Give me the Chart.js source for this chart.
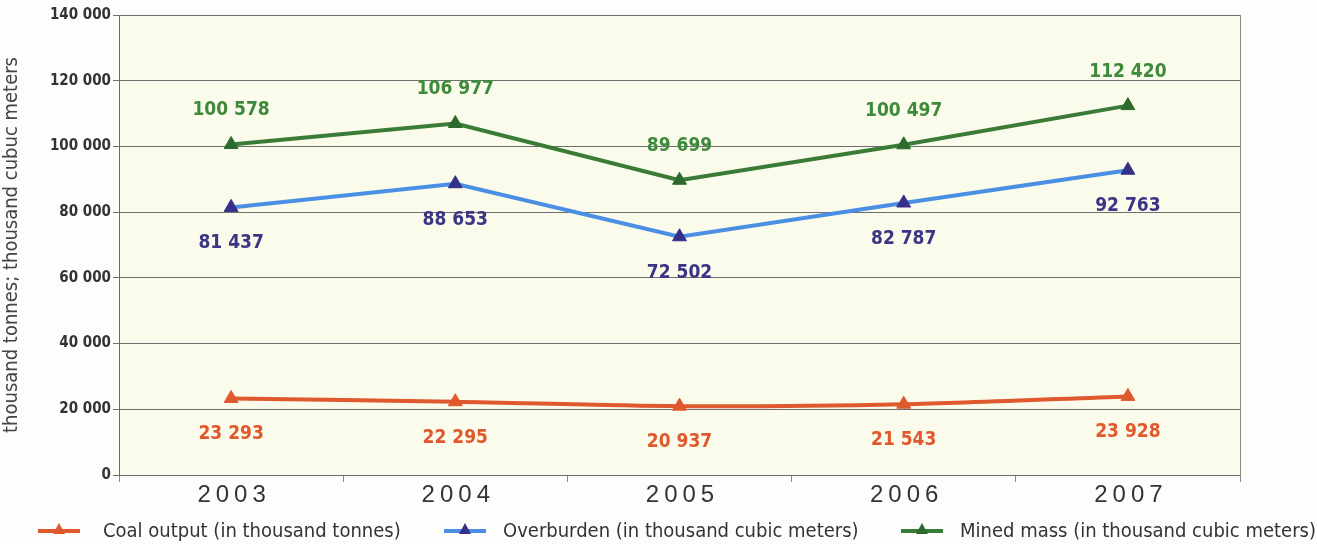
<!DOCTYPE html>
<html>
<head>
<meta charset="utf-8">
<script src="https://cdn.jsdelivr.net/npm/chart.js@4/dist/chart.umd.min.js"></script>
<style>
  html, body { margin: 0; padding: 0; background: #fdfdfb; }
  #wrap { position: relative; width: 1317px; height: 544px; }
  #legend { position: absolute; left: 0; top: 516px; width: 1317px; height: 28px;
    font-family: 'Liberation Sans Narrow', 'DejaVu Sans Condensed', sans-serif; font-size: 20px; color: #333; }
  .item { position: absolute; top: 0; height: 28px; line-height: 28px; white-space: nowrap; }
  .sw { position: absolute; top: 13px; width: 42px; height: 4px; }
  .tri { position: absolute; top: -6px; left: 15px; width: 0; height: 0;
    border-left: 6px solid transparent; border-right: 6px solid transparent; border-bottom: 11px solid; }
  .txt { position: absolute; top: 0; }
</style>
</head>
<body>
<div id="wrap">
  <canvas id="myChart" width="1317" height="544"></canvas>
  <div id="legend"></div>
</div>
<script>
  var years = ["2003", "2004", "2005", "2006", "2007"];
  var coalOutput = [23293, 22295, 20937, 21543, 23928];
  var overburden = [81437, 88653, 72502, 82787, 92763];
  var minedMass = [100578, 106977, 89699, 100497, 112420];
  var yTicks = [0, 20000, 40000, 60000, 80000, 100000, 120000, 140000];
  var seriesNames = ["Coal output (in thousand tonnes)", "Overburden (in thousand cubic meters)", "Mined mass (in thousand cubic meters)"];

  var narrow = "'Liberation Sans Narrow', 'DejaVu Sans Condensed', sans-serif";

  var fmt = function(v) {
    return String(v).replace(/\B(?=(\d{3})+(?!\d))/g, ' ');
  };

  // colours / label offsets per series
  var looks = [
    { line: '#e0582d', mark: '#e0582d', text: '#e0582d', dy: 36, tension: 0.3 },
    { line: '#4a8fe4', mark: '#35308a', text: '#3a3585', dy: 36, tension: 0 },
    { line: '#3b7b38', mark: '#2d6a2e', text: '#3e8a3c', dy: -34, tension: 0 }
  ];

  var bgPlugin = {
    id: 'bg',
    beforeDraw: function(chart) {
      var a = chart.chartArea, c = chart.ctx;
      c.save();
      c.fillStyle = '#fafbea';
      c.fillRect(a.left, a.top, a.right - a.left, a.bottom - a.top);
      c.restore();
    },
    afterDraw: function(chart) {
      var a = chart.chartArea, c = chart.ctx;
      c.save();
      c.strokeStyle = '#8a8a8a';
      c.lineWidth = 1;
      c.beginPath();
      c.moveTo(a.right + 0.5, a.top);
      c.lineTo(a.right + 0.5, a.bottom + 6);
      c.stroke();
      // year labels with wide spacing
      var xs = chart.scales.x;
      c.fillStyle = '#333';
      c.font = '24px "Liberation Sans", Arial, sans-serif';
      c.letterSpacing = '5px';
      c.textAlign = 'center';
      c.textBaseline = 'middle';
      for (var i = 0; i < years.length; i++) {
        c.fillText(years[i], xs.getPixelForValue(i) + 3, 495);
      }
      c.restore();
    }
  };

  var labelPlugin = {
    id: 'vals',
    afterDatasetsDraw: function(chart) {
      var c = chart.ctx;
      c.save();
      c.font = 'bold 19px ' + narrow;
      c.textAlign = 'center';
      c.textBaseline = 'middle';
      chart.data.datasets.forEach(function(ds, k) {
        var meta = chart.getDatasetMeta(k);
        c.fillStyle = looks[k].text;
        meta.data.forEach(function(pt, i) {
          c.fillText(fmt(ds.data[i]), pt.x, pt.y + looks[k].dy);
        });
      });
      c.restore();
    }
  };

  var allSeries = [coalOutput, overburden, minedMass];
  var datasets = [];
  for (var k = 0; k < allSeries.length; k++) {
    datasets.push({
      label: seriesNames[k],
      data: allSeries[k],
      borderColor: looks[k].line,
      borderWidth: 4,
      tension: looks[k].tension,
      pointStyle: 'triangle',
      pointRadius: 8,
      pointBackgroundColor: looks[k].mark,
      pointBorderColor: looks[k].mark,
      pointBorderWidth: 1,
      fill: false
    });
  }

  var ctx = document.getElementById('myChart').getContext('2d');
  var myLineChart = new Chart(ctx, {
    type: 'line',
    data: { labels: years, datasets: datasets },
    options: {
      responsive: false,
      animation: false,
      layout: { padding: { top: 15, right: 77, left: 0, bottom: 0 } },
      plugins: { legend: { display: false }, tooltip: { enabled: false } },
      scales: {
        x: {
          offset: true,
          grid: { display: true, drawOnChartArea: false, drawTicks: true, tickLength: 7, color: '#8a8a8a', offset: true },
          border: { display: true, color: '#6a6a6a', width: 1 },
          ticks: { display: false },
          afterFit: function(s) { s.height = 69; }
        },
        y: {
          min: 0,
          max: 140000,
          afterBuildTicks: function(s) { s.ticks = yTicks.map(function(v) { return { value: v }; }); },
          grid: { color: '#6e6e6e', lineWidth: 1, tickLength: 6 },
          border: { display: true, color: '#6a6a6a', width: 1 },
          ticks: {
            color: '#333',
            padding: 2,
            font: { family: narrow, size: 15, weight: 'bold' },
            callback: function(v) { return fmt(v); }
          },
          title: {
            display: true,
            text: 'thousand tonnes; thousand cubuc meters',
            color: '#444',
            padding: { top: 0, bottom: 6 },
            font: { family: narrow, size: 20 }
          },
          afterFit: function(s) { s.width = 119; }
        }
      }
    },
    plugins: [bgPlugin, labelPlugin]
  });

  // legend
  var legendLeft = [38, 444, 901];
  var html = '';
  for (var i = 0; i < seriesNames.length; i++) {
    html += '<div class="item" style="left:' + legendLeft[i] + 'px">';
    html += '<div class="sw" style="left:0;background:' + looks[i].line + '">';
    html += '<div class="tri" style="border-bottom-color:' + looks[i].mark + '"></div></div>';
    html += '<div class="txt" style="left:' + (i === 0 ? 65 : 59) + 'px">' + seriesNames[i] + '</div>';
    html += '</div>';
  }
  document.getElementById('legend').innerHTML = html;
</script>
</body>
</html>
